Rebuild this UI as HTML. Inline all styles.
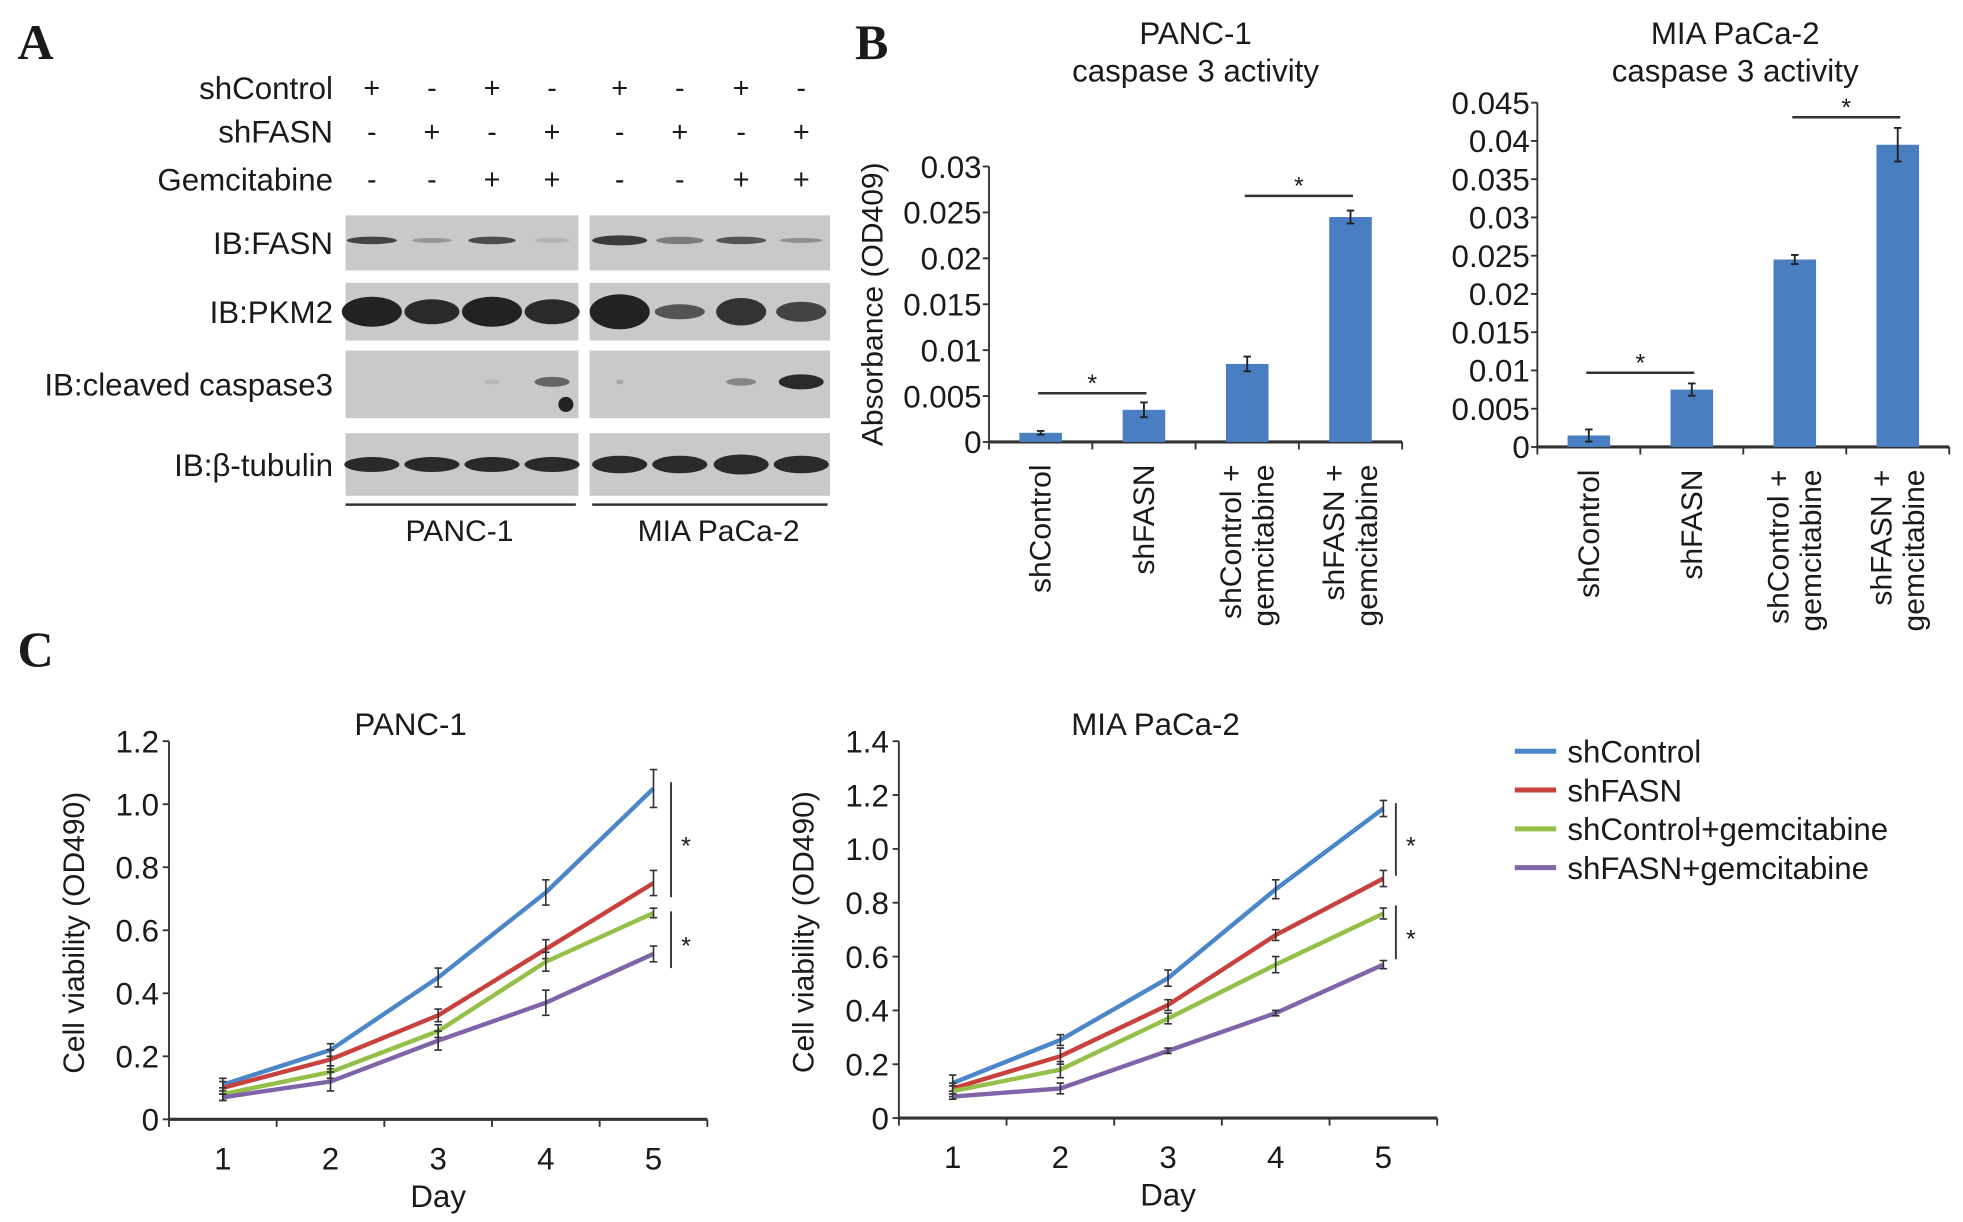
<!DOCTYPE html>
<html><head><meta charset="utf-8">
<style>
html,body{margin:0;padding:0;background:#fff;}
svg{display:block;}
text{font-family:"Liberation Sans Narrow","Liberation Sans",Arial,sans-serif;fill:#1a1a1a;}
.w{font-family:"Liberation Sans",Arial,sans-serif;}
.serif{font-family:"Liberation Serif",serif;font-weight:bold;}
</style></head>
<body>
<svg id="fig" width="1963" height="1222" viewBox="0 0 1568 976" preserveAspectRatio="none" xmlns="http://www.w3.org/2000/svg"></svg>
<script>
// ---------- Data ----------
const barCategories = ["shControl","shFASN","shControl + gemcitabine","shFASN + gemcitabine"];
const panc1Caspase = [0.001,0.0035,0.0085,0.0245];
const panc1CaspaseErr = [0.0002,0.0008,0.0008,0.0007];
const miaCaspase = [0.0015,0.0075,0.0245,0.0395];
const miaCaspaseErr = [0.0008,0.0008,0.0006,0.0022];
const panc1BarTicks = ["0","0.005","0.01","0.015","0.02","0.025","0.03"];
const miaBarTicks = ["0","0.005","0.01","0.015","0.02","0.025","0.03","0.035","0.04","0.045"];

const days = [1,2,3,4,5];
const seriesNames = ["shControl","shFASN","shControl+gemcitabine","shFASN+gemcitabine"];
const panc1ShControl = [0.11,0.22,0.45,0.72,1.05];
const panc1ShFASN = [0.10,0.19,0.33,0.54,0.75];
const panc1CtrlGem = [0.08,0.15,0.28,0.50,0.655];
const panc1FASNGem = [0.07,0.12,0.25,0.37,0.525];
const panc1Err = [[0.02,0.02,0.03,0.04,0.06],[0.02,0.03,0.02,0.03,0.04],[0.02,0.02,0.02,0.03,0.015],[0.01,0.03,0.03,0.04,0.025]];
const miaShControl = [0.13,0.29,0.52,0.85,1.15];
const miaShFASN = [0.11,0.23,0.42,0.68,0.89];
const miaCtrlGem = [0.10,0.18,0.37,0.57,0.76];
const miaFASNGem = [0.08,0.11,0.25,0.39,0.57];
const miaErr = [[0.03,0.02,0.03,0.035,0.03],[0.02,0.03,0.02,0.02,0.03],[0.02,0.03,0.02,0.03,0.02],[0.01,0.02,0.01,0.01,0.015]];
const panc1LineTicks = ["0","0.2","0.4","0.6","0.8","1.0","1.2"];
const miaLineTicks = ["0","0.2","0.4","0.6","0.8","1.0","1.2","1.4"];
const colors = ["#4a86c8","#c8413c","#94c04a","#8064a8"];

// ---------- Helpers ----------
const NS="http://www.w3.org/2000/svg";
const svg=document.getElementById('fig');
function mk(tag,attrs,parent,txt){const e=document.createElementNS(NS,tag);for(const k in attrs)e.setAttribute(k,attrs[k]);if(txt!==undefined)e.textContent=txt;(parent||svg).appendChild(e);return e;}
function grp(name,parent){const g=mk('g',{},parent);return g;}

// ---------- Panel labels ----------
[["A",14,47],["B",683,47],["C",14,532]].forEach(p=>{const t=mk('text',{x:p[1],y:p[2],'font-size':40,class:'serif'},svg,p[0]);});

// ---------- Panel A: western blot ----------
(function(){
  const g=grp('western-blot-panel');
  const lanes=[297,345,393,441,495,543,592,640];
  const signs=[["shControl",70,["+","-","+","-","+","-","+","-"]],["shFASN",105,["-","+","-","+","-","+","-","+"]],["Gemcitabine",143,["-","-","+","+","-","-","+","+"]]];
  signs.forEach(r=>{
    const l=mk('text',{x:266,y:r[1]+9,'font-size':25,'text-anchor':'end',class:'w'},g,r[0]);
    r[2].forEach((s,i)=>{const t=mk('text',{x:lanes[i],y:r[1]+8,'font-size':23,'text-anchor':'middle',class:'w'},g,s);});
  });
  const rows=[["IB:FASN",172,216],["IB:PKM2",226,272],["IB:cleaved caspase3",280,334],["IB:\u03b2-tubulin",346,396]];
  const boxes=[[276,462],[471,663]];
  const band={ "IB:FASN":[[20,3,.8],[16,2,.3],[19,3,.75],[14,2,.12],[22,4,.85],[19,3,.45],[20,3,.7],[17,2,.35]],
    "IB:PKM2":[[24,12,1],[22,10,.95],[24,12,1],[22,10,.95],[24,14,1],[20,6,.7],[20,11,.9],[20,8,.8]],
    "IB:cleaved caspase3":[[0,0,0],[0,0,0],[6,2,.1],[14,4,.6],[3,2,.2],[0,0,0],[12,3,.4],[18,6,.95]],
    "IB:\u03b2-tubulin":[[22,6,.95],[22,6,.95],[22,6,.95],[22,6,.95],[22,7,.95],[22,7,.95],[22,8,.95],[22,7,.95]]};
  rows.forEach(r=>{
    const t=mk('text',{x:266,y:(r[1]+r[2])/2+9,'font-size':25,'text-anchor':'end',class:'w'},g,r[0]);
    boxes.forEach(b=>{const rc=mk('rect',{x:b[0],y:r[1],width:b[1]-b[0],height:r[2]-r[1],fill:'#c9c9c9'},g);});
    band[r[0]].forEach((bd,i)=>{if(bd[2]>0){const e=mk('ellipse',{cx:lanes[i],cy:(r[1]+r[2])/2-(r[0]==="IB:cleaved caspase3"?2:0)-(r[0]==="IB:FASN"?2:0),rx:bd[0],ry:bd[1],fill:'#222','fill-opacity':bd[2]},g);}});
  });
  const dot=mk('circle',{cx:452,cy:323,r:6,fill:'#222'},g);
  mk('line',{x1:276,x2:460,y1:403,y2:403,stroke:'#333','stroke-width':2},g);
  mk('line',{x1:473,x2:661,y1:403,y2:403,stroke:'#333','stroke-width':2},g);
  [["PANC-1",367],["MIA PaCa-2",574]].forEach(c=>{const t=mk('text',{x:c[1],y:432,'font-size':24,'text-anchor':'middle',class:'w'},g,c[0]);});
})();

// ---------- Panel B: bar charts ----------
function barChart(o){
  const g=grp(o.name);
  const n=o.vals.length, step=(o.x1-o.x0)/n;
  const y=v=>o.y0-(v/o.max)*(o.y0-o.yTop);
  const x=i=>o.x0+step*(i+0.5);
  o.title.forEach((tl,i)=>{const t=mk('text',{x:o.titleX,y:o.titleY+i*30,'font-size':25,'text-anchor':'middle'},g,tl);});
  o.ticks.forEach((tk,i)=>{const v=parseFloat(tk);const yy=y(v);
    mk('line',{x1:o.x0-5,x2:o.x0,y1:yy,y2:yy,stroke:'#333','stroke-width':1.5},g);
    const t=mk('text',{x:o.x0-6,y:yy+9,'font-size':25,'text-anchor':'end'},g,tk);});
  mk('line',{x1:o.x0,x2:o.x0,y1:o.yTop,y2:o.y0,stroke:'#333','stroke-width':1.5},g);
  const ax=mk('line',{x1:o.x0,x2:o.x1,y1:o.y0,y2:o.y0,stroke:'#333','stroke-width':2.5},g);
  for(let i=0;i<=n;i++)mk('line',{x1:o.x0+step*i,x2:o.x0+step*i,y1:o.y0,y2:o.y0+6,stroke:'#333','stroke-width':1.5},g);
  o.vals.forEach((v,i)=>{
    const b=mk('rect',{x:x(i)-17,y:y(v),width:34,height:o.y0-y(v),fill:'#4a7ec2'},g);
    
    const e=o.err[i];
    mk('path',{d:`M${x(i)},${y(v+e)}V${y(v-e)}M${x(i)-3},${y(v+e)}h6M${x(i)-3},${y(v-e)}h6`,stroke:'#222','stroke-width':1.5,fill:'none'},g);
    const parts=o.cats[i].split(' + ');
    const lines=parts.length>1?[parts[0]+' +',parts[1]]:[parts[0]];
    lines.forEach((ln,j)=>{const xx=x(i)+8+(j-(lines.length-1)/2)*26;
      const t=mk('text',{x:0,y:0,'font-size':24,'text-anchor':'end',class:'w',transform:`translate(${xx},${o.y0+18}) rotate(-90)`},g,ln);});
  });
  o.sig.forEach(s=>{const xa=x(s[0])-2,xb=x(s[1])+2,yy=y(s[2]);
    mk('line',{x1:xa,x2:xb,y1:yy,y2:yy,stroke:'#333','stroke-width':2},g);
    const t=mk('text',{x:(xa+xb)/2,y:yy-1,'font-size':20,'text-anchor':'middle'},g,'*');});
  if(o.ytitle){const t=mk('text',{x:0,y:0,'font-size':24,'text-anchor':'middle',class:'w',transform:`translate(${o.ytitleX},${o.ytitleY}) rotate(-90)`},g,o.ytitle);}
}
barChart({name:'panc1-caspase-chart',x0:790,x1:1120,y0:353,yTop:133,max:0.03,vals:panc1Caspase,err:panc1CaspaseErr,cats:barCategories,ticks:panc1BarTicks,
  title:["PANC-1","caspase 3 activity"],titleX:955,titleY:35,sig:[[0,1,0.0053],[2,3,0.0268]],ytitle:"Absorbance (OD409)",ytitleX:705,ytitleY:243});
barChart({name:'mia-caspase-chart',x0:1228,x1:1557,y0:357,yTop:82,max:0.045,vals:miaCaspase,err:miaCaspaseErr,cats:barCategories,ticks:miaBarTicks,
  title:["MIA PaCa-2","caspase 3 activity"],titleX:1386,titleY:35,sig:[[0,1,0.0097],[2,3,0.0431]]});

// ---------- Panel C: line charts ----------
function lineChart(o){
  const g=grp(o.name);
  const step=(o.x1-o.x0)/days.length;
  const x=i=>o.x0+step*(i+0.5);
  const y=v=>o.y0-(v/o.max)*(o.y0-o.yTop);
  const t0=mk('text',{x:o.titleX,y:o.yTop-5,'font-size':25,'text-anchor':'middle'},g,o.title);
  o.ticks.forEach(tk=>{const yy=y(parseFloat(tk));
    mk('line',{x1:o.x0-5,x2:o.x0,y1:yy,y2:yy,stroke:'#333','stroke-width':1.5},g);
    const t=mk('text',{x:o.x0-8,y:yy+9,'font-size':25,'text-anchor':'end'},g,tk);});
  mk('line',{x1:o.x0,x2:o.x0,y1:o.yTop,y2:o.y0,stroke:'#333','stroke-width':1.5},g);
  const ax=mk('line',{x1:o.x0,x2:o.x1,y1:o.y0,y2:o.y0,stroke:'#333','stroke-width':2.5},g);
  for(let i=0;i<=days.length;i++)mk('line',{x1:o.x0+step*i,x2:o.x0+step*i,y1:o.y0,y2:o.y0+6,stroke:'#333','stroke-width':1.5},g);
  days.forEach((d,i)=>{const t=mk('text',{x:x(i),y:o.y0+40,'font-size':25,'text-anchor':'middle'},g,String(d));});
  const xt=mk('text',{x:(o.x0+o.x1)/2,y:o.y0+70,'font-size':25,'text-anchor':'middle'},g,'Day');
  const yt=mk('text',{x:0,y:0,'font-size':24,'text-anchor':'middle',class:'w',transform:`translate(${o.x0-68},${(o.y0+o.yTop)/2+2}) rotate(-90)`},g,'Cell viability (OD490)');
  o.series.forEach((s,k)=>{
    const p=mk('polyline',{points:s.map((v,i)=>x(i)+','+y(v)).join(' '),fill:'none',stroke:colors[k],'stroke-width':3.5},g);
    
    s.forEach((v,i)=>{const e=o.err[k][i];mk('path',{d:`M${x(i)},${y(v+e)}V${y(v-e)}M${x(i)-3},${y(v+e)}h6M${x(i)-3},${y(v-e)}h6`,stroke:'#333','stroke-width':1.3,fill:'none'},g);});
  });
  o.sig.forEach(s=>{const xx=x(4)+o.sigDx;
    mk('line',{x1:xx,x2:xx,y1:y(s[0]),y2:y(s[1]),stroke:'#333','stroke-width':1.5},g);
    const t=mk('text',{x:xx+12,y:(y(s[0])+y(s[1]))/2+12,'font-size':20,'text-anchor':'middle'},g,'*');});
}
lineChart({name:'panc1-viability-chart',x0:135,x1:565,y0:894,yTop:592,max:1.2,ticks:panc1LineTicks,title:'PANC-1',titleX:328,
  series:[panc1ShControl,panc1ShFASN,panc1CtrlGem,panc1FASNGem],err:panc1Err,sig:[[1.07,0.705],[0.66,0.48]],sigDx:14});
lineChart({name:'mia-viability-chart',x0:718,x1:1148,y0:893,yTop:592,max:1.4,ticks:miaLineTicks,title:'MIA PaCa-2',titleX:923,
  series:[miaShControl,miaShFASN,miaCtrlGem,miaFASNGem],err:miaErr,sig:[[1.17,0.9],[0.79,0.59]],sigDx:10});

// ---------- Legend ----------
(function(){const g=grp('legend');
  seriesNames.forEach((s,i)=>{const yy=600+i*31;
    const e=grp('legend-entry',g);
    mk('line',{x1:1210,x2:1243,y1:yy,y2:yy,stroke:colors[i],'stroke-width':4},e);
    mk('text',{x:1252,y:yy+9,'font-size':25},e,s);});
})();
</script>
</body></html>
